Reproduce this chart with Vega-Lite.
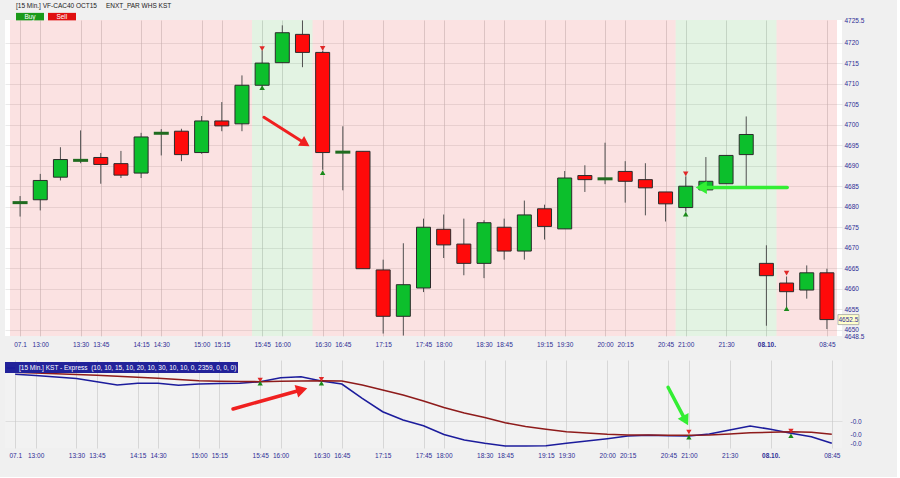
{
  "$schema": "https://vega.github.io/schema/vega-lite/v6.json",
  "background": "#f0f0f0",
  "padding": {"left": 5, "top": 3, "right": 33, "bottom": 18},
  "config": {
    "font": "Liberation Sans",
    "view": {"stroke": null},
    "axis": {"labelFont": "Liberation Sans", "labelFontSize": 6.5, "labelColor": "#2e2e96", "domain": false, "ticks": false, "gridColor": "#c4c4c4", "gridOpacity": 0.6, "title": null, "labelOverlap": false, "labelFlush": false},
    "legend": {"labelFont": "Liberation Sans", "titleFont": "Liberation Sans"}
  },
  "datasets": {
    "candles": [
      {"i": 0, "o": 4681, "h": 4682.6, "l": 4677.6, "c": 4681, "d": "flat"},
      {"i": 1, "o": 4681.7, "h": 4688, "l": 4679.1, "c": 4686.4, "d": "up"},
      {"i": 2, "o": 4687.2, "h": 4694.5, "l": 4686.4, "c": 4691.5, "d": "up"},
      {"i": 3, "o": 4691.3, "h": 4698.6, "l": 4690.6, "c": 4691.3, "d": "flat"},
      {"i": 4, "o": 4692, "h": 4693.1, "l": 4685.6, "c": 4690.3, "d": "down"},
      {"i": 5, "o": 4690.5, "h": 4693.6, "l": 4687, "c": 4687.7, "d": "down"},
      {"i": 6, "o": 4688.2, "h": 4698, "l": 4687, "c": 4697, "d": "up"},
      {"i": 7, "o": 4697.9, "h": 4698.9, "l": 4692.5, "c": 4697.9, "d": "flat"},
      {"i": 8, "o": 4698.4, "h": 4699, "l": 4691.1, "c": 4692.7, "d": "down"},
      {"i": 9, "o": 4693.2, "h": 4702.1, "l": 4692.9, "c": 4700.9, "d": "up"},
      {"i": 10, "o": 4700.9, "h": 4705.5, "l": 4698.4, "c": 4699.7, "d": "down"},
      {"i": 11, "o": 4700.2, "h": 4712, "l": 4698.4, "c": 4709.6, "d": "up"},
      {"i": 12, "o": 4709.6, "h": 4718.1, "l": 4709.3, "c": 4715, "d": "up"},
      {"i": 13, "o": 4715.1, "h": 4724.2, "l": 4715, "c": 4722.4, "d": "up"},
      {"i": 14, "o": 4722, "h": 4725.4, "l": 4714, "c": 4717.6, "d": "down"},
      {"i": 15, "o": 4717.6, "h": 4718, "l": 4689, "c": 4693.2, "d": "down"},
      {"i": 16, "o": 4693.3, "h": 4699.6, "l": 4684, "c": 4693.3, "d": "flat"},
      {"i": 17, "o": 4693.5, "h": 4693.5, "l": 4664.9, "c": 4664.9, "d": "down"},
      {"i": 18, "o": 4664.6, "h": 4667.1, "l": 4649.1, "c": 4653.3, "d": "down"},
      {"i": 19, "o": 4653.3, "h": 4671.1, "l": 4648.6, "c": 4661, "d": "up"},
      {"i": 20, "o": 4660.2, "h": 4677.1, "l": 4659.2, "c": 4675, "d": "up"},
      {"i": 21, "o": 4674.5, "h": 4678.1, "l": 4667.5, "c": 4670.7, "d": "down"},
      {"i": 22, "o": 4670.9, "h": 4677.1, "l": 4663.3, "c": 4666.2, "d": "down"},
      {"i": 23, "o": 4666.2, "h": 4676.7, "l": 4662.6, "c": 4676.1, "d": "up"},
      {"i": 24, "o": 4675, "h": 4677.1, "l": 4667.1, "c": 4669.2, "d": "down"},
      {"i": 25, "o": 4669.2, "h": 4681.5, "l": 4667.1, "c": 4678, "d": "up"},
      {"i": 26, "o": 4679.5, "h": 4680.5, "l": 4672, "c": 4675.2, "d": "down"},
      {"i": 27, "o": 4674.6, "h": 4688.7, "l": 4674.6, "c": 4687, "d": "up"},
      {"i": 28, "o": 4687.6, "h": 4690.1, "l": 4683.6, "c": 4686.6, "d": "down"},
      {"i": 29, "o": 4686.8, "h": 4695.6, "l": 4685.5, "c": 4686.8, "d": "flat"},
      {"i": 30, "o": 4688.6, "h": 4691.1, "l": 4681, "c": 4686.2, "d": "down"},
      {"i": 31, "o": 4686.6, "h": 4690.6, "l": 4677.9, "c": 4684.6, "d": "down"},
      {"i": 32, "o": 4683.6, "h": 4683.6, "l": 4676.4, "c": 4680.7, "d": "down"},
      {"i": 33, "o": 4679.8, "h": 4687.4, "l": 4678.8, "c": 4685, "d": "up"},
      {"i": 34, "o": 4684.1, "h": 4692.1, "l": 4684, "c": 4686.2, "d": "up"},
      {"i": 35, "o": 4685.6, "h": 4692.5, "l": 4685.6, "c": 4692.5, "d": "up"},
      {"i": 36, "o": 4692.7, "h": 4702, "l": 4685, "c": 4697.6, "d": "up"},
      {"i": 37, "o": 4666.2, "h": 4670.6, "l": 4651, "c": 4663.2, "d": "down"},
      {"i": 38, "o": 4661.4, "h": 4663, "l": 4655.5, "c": 4659.3, "d": "down"},
      {"i": 39, "o": 4659.7, "h": 4665.7, "l": 4657.6, "c": 4663.9, "d": "up"},
      {"i": 40, "o": 4663.9, "h": 4664.9, "l": 4650.2, "c": 4652.5, "d": "down"}
    ],
    "zones": [
      {"s": -0.5, "e": 11.5, "sig": "Sell"},
      {"s": 11.5, "e": 14.5, "sig": "Buy"},
      {"s": 14.5, "e": 32.5, "sig": "Sell"},
      {"s": 32.5, "e": 37.5, "sig": "Buy"},
      {"s": 37.5, "e": 40.5, "sig": "Sell"}
    ],
    "signalsTop": [
      {"i": 12, "p": 4718.5, "sig": "Sell"}, {"i": 12, "p": 4709.0, "sig": "Buy"},
      {"i": 15, "p": 4718.6, "sig": "Sell"}, {"i": 15, "p": 4688.3, "sig": "Buy"},
      {"i": 33, "p": 4688.0, "sig": "Sell"}, {"i": 33, "p": 4678.2, "sig": "Buy"},
      {"i": 38, "p": 4663.8, "sig": "Sell"}, {"i": 38, "p": 4655.2, "sig": "Buy"}
    ],
    "signalsBottom": [
      {"i": 12, "v": 0.041, "sig": "Sell"}, {"i": 12, "v": 0.0377, "sig": "Buy"},
      {"i": 15, "v": 0.0417, "sig": "Sell"}, {"i": 15, "v": 0.0377, "sig": "Buy"},
      {"i": 33, "v": -0.011, "sig": "Sell"}, {"i": 33, "v": -0.0163, "sig": "Buy"},
      {"i": 38, "v": -0.010, "sig": "Sell"}, {"i": 38, "v": -0.0147, "sig": "Buy"}
    ],
    "arrowsTop": [
      {"a": "red", "x": 12.09, "y": 4701.8, "x2": 14.14, "y2": 4695.4},
      {"a": "green", "x": 38.03, "y": 4684.7, "x2": 33.77, "y2": 4684.7}
    ],
    "arrowsBottom": [
      {"a": "red", "x": 10.67, "y": 0.012, "x2": 14.04, "y2": 0.0313},
      {"a": "green", "x": 31.98, "y": 0.0337, "x2": 32.84, "y2": 0.0004}
    ],
    "kst": [
      {"i": 0, "v": 0.0467, "series": "KST"}, {"i": 1, "v": 0.0455, "series": "KST"}, {"i": 2, "v": 0.044, "series": "KST"},
      {"i": 3, "v": 0.0425, "series": "KST"}, {"i": 4, "v": 0.0393, "series": "KST"}, {"i": 5, "v": 0.036, "series": "KST"},
      {"i": 6, "v": 0.0377, "series": "KST"}, {"i": 7, "v": 0.0377, "series": "KST"}, {"i": 8, "v": 0.0357, "series": "KST"},
      {"i": 9, "v": 0.037, "series": "KST"}, {"i": 10, "v": 0.0375, "series": "KST"}, {"i": 11, "v": 0.0377, "series": "KST"},
      {"i": 12, "v": 0.0393, "series": "KST"}, {"i": 13, "v": 0.0433, "series": "KST"}, {"i": 14, "v": 0.0443, "series": "KST"},
      {"i": 15, "v": 0.04, "series": "KST"}, {"i": 16, "v": 0.037, "series": "KST"}, {"i": 17, "v": 0.0227, "series": "KST"},
      {"i": 18, "v": 0.0093, "series": "KST"}, {"i": 19, "v": 0.001, "series": "KST"}, {"i": 20, "v": -0.0047, "series": "KST"},
      {"i": 21, "v": -0.0135, "series": "KST"}, {"i": 22, "v": -0.019, "series": "KST"}, {"i": 23, "v": -0.0223, "series": "KST"},
      {"i": 24, "v": -0.025, "series": "KST"}, {"i": 25, "v": -0.025, "series": "KST"}, {"i": 26, "v": -0.0247, "series": "KST"},
      {"i": 27, "v": -0.0223, "series": "KST"}, {"i": 28, "v": -0.02, "series": "KST"}, {"i": 29, "v": -0.0177, "series": "KST"},
      {"i": 30, "v": -0.015, "series": "KST"}, {"i": 31, "v": -0.0143, "series": "KST"}, {"i": 32, "v": -0.0147, "series": "KST"},
      {"i": 33, "v": -0.015, "series": "KST"}, {"i": 34, "v": -0.013, "series": "KST"}, {"i": 35, "v": -0.009, "series": "KST"},
      {"i": 36, "v": -0.005, "series": "KST"}, {"i": 37, "v": -0.0083, "series": "KST"}, {"i": 38, "v": -0.0123, "series": "KST"},
      {"i": 39, "v": -0.0157, "series": "KST"}, {"i": 40, "v": -0.0223, "series": "KST"},
      {"i": 0, "v": 0.0487, "series": "Signal"}, {"i": 1, "v": 0.048, "series": "Signal"}, {"i": 2, "v": 0.0472, "series": "Signal"},
      {"i": 3, "v": 0.0465, "series": "Signal"}, {"i": 4, "v": 0.0457, "series": "Signal"}, {"i": 5, "v": 0.0448, "series": "Signal"},
      {"i": 6, "v": 0.0438, "series": "Signal"}, {"i": 7, "v": 0.0428, "series": "Signal"}, {"i": 8, "v": 0.0415, "series": "Signal"},
      {"i": 9, "v": 0.0403, "series": "Signal"}, {"i": 10, "v": 0.0398, "series": "Signal"}, {"i": 11, "v": 0.0395, "series": "Signal"},
      {"i": 12, "v": 0.0393, "series": "Signal"}, {"i": 13, "v": 0.0397, "series": "Signal"}, {"i": 14, "v": 0.04, "series": "Signal"},
      {"i": 15, "v": 0.0403, "series": "Signal"}, {"i": 16, "v": 0.04, "series": "Signal"}, {"i": 17, "v": 0.036, "series": "Signal"},
      {"i": 18, "v": 0.031, "series": "Signal"}, {"i": 19, "v": 0.026, "series": "Signal"}, {"i": 20, "v": 0.02, "series": "Signal"},
      {"i": 21, "v": 0.0135, "series": "Signal"}, {"i": 22, "v": 0.008, "series": "Signal"}, {"i": 23, "v": 0.0035, "series": "Signal"},
      {"i": 24, "v": -0.0017, "series": "Signal"}, {"i": 25, "v": -0.0055, "series": "Signal"}, {"i": 26, "v": -0.0083, "series": "Signal"},
      {"i": 27, "v": -0.0107, "series": "Signal"}, {"i": 28, "v": -0.012, "series": "Signal"}, {"i": 29, "v": -0.0133, "series": "Signal"},
      {"i": 30, "v": -0.014, "series": "Signal"}, {"i": 31, "v": -0.014, "series": "Signal"}, {"i": 32, "v": -0.0142, "series": "Signal"},
      {"i": 33, "v": -0.0143, "series": "Signal"}, {"i": 34, "v": -0.014, "series": "Signal"}, {"i": 35, "v": -0.013, "series": "Signal"},
      {"i": 36, "v": -0.0117, "series": "Signal"}, {"i": 37, "v": -0.0113, "series": "Signal"}, {"i": 38, "v": -0.0107, "series": "Signal"},
      {"i": 39, "v": -0.0113, "series": "Signal"}, {"i": 40, "v": -0.0133, "series": "Signal"}
    ]
  },
  "spacing": 12,
  "resolve": {"scale": {"y": "independent", "color": "independent", "fill": "independent"}},
  "vconcat": [
    {
      "width": 837,
      "height": 316,
      "view": {"fill": "#ffffff", "stroke": null},
      "layer": [
        {
          "data": {"name": "zones"},
          "mark": {"type": "rect", "opacity": 0.12},
          "encoding": {
            "x": {"field": "s", "type": "quantitative", "scale": {"domain": [-0.5, 40.5], "nice": false, "zero": false},
              "axis": {"orient": "bottom", "grid": true, "tickCount": 200, "labelPadding": 5, "labelOverlap": false, "labelFlush": false, "labelBound": false,
                "values": [0, 1, 3, 4, 6, 7, 9, 10, 12, 13, 15, 16, 18, 20, 21, 23, 24, 26, 27, 29, 30, 32, 33, 35, 37, 40],
                "labelExpr": "['07.1','13:00','13:15','13:30','13:45','14:00','14:15','14:30','14:45','15:00','15:15','15:30','15:45','16:00','16:15','16:30','16:45','17:00','17:15','17:30','17:45','18:00','18:15','18:30','18:45','19:00','19:15','19:30','19:45','20:00','20:15','20:30','20:45','21:00','21:15','21:30','21:45','08.10.','08:15','08:30','08:45'][datum.value]",
                "labelFontWeight": {"condition": {"test": "datum.value == 37", "value": "bold"}, "value": "normal"}}},
            "x2": {"field": "e"},
            "fill": {"field": "sig", "type": "nominal", "scale": {"domain": ["Buy", "Sell"], "range": ["#1a9a1a", "#e01010"]},
              "legend": {"orient": "none", "legendX": 11, "legendY": -17, "direction": "horizontal",
                "title": "[15 Min.] VF-CAC40 OCT15\u00a0\u00a0\u00a0\u00a0\u00a0ENXT_PAR WHS KST",
                "titleFontSize": 6.5, "titleFontWeight": "normal", "titleColor": "#1a1a1a", "titlePadding": 2, "titleLimit": 400,
                "symbolType": "M-1,-0.75H4.6V0.75H-1Z", "symbolSize": 100, "symbolOpacity": 1, "symbolStrokeWidth": 0,
                "labelColor": "#ffffff", "labelFontSize": 6.5, "labelOffset": -1.6, "columnPadding": 4}}
          }
        },
        {
          "data": {"name": "candles"},
          "mark": {"type": "rule", "color": "#505050", "strokeWidth": 1},
          "encoding": {
            "x": {"field": "i", "type": "quantitative"},
            "y": {"field": "l", "type": "quantitative", "scale": {"domain": [4648.5, 4725.5], "nice": false, "zero": false},
              "axis": {"orient": "right", "grid": true, "tickCount": 200, "labelPadding": 2, "labelOverlap": false, "labelFlush": false, "labelBound": false,
                "values": [4648.5, 4650, 4655, 4660, 4665, 4670, 4675, 4680, 4685, 4690, 4695, 4700, 4705, 4710, 4715, 4720, 4725.5],
                "labelExpr": "datum.value + ''",
                "gridOpacity": {"condition": {"test": "datum.value == 4648.5 || datum.value == 4725.5", "value": 0}, "value": 0.6}}},
            "y2": {"field": "h"}
          }
        },
        {
          "data": {"name": "candles"},
          "transform": [{"filter": "datum.d != 'flat'"}],
          "mark": {"type": "bar", "size": 14, "stroke": "#2b2b2b", "strokeWidth": 1},
          "encoding": {
            "x": {"field": "i", "type": "quantitative"},
            "y": {"field": "o", "type": "quantitative"},
            "y2": {"field": "c"},
            "color": {"field": "d", "type": "nominal", "scale": {"domain": ["up", "down"], "range": ["#0cbf2c", "#ff0a0a"]}, "legend": null}
          }
        },
        {
          "data": {"name": "candles"},
          "transform": [{"filter": "datum.d == 'flat'"}],
          "mark": {"type": "tick", "orient": "horizontal", "size": 15, "thickness": 3, "color": "#1f6b1f", "opacity": 1},
          "encoding": {
            "x": {"field": "i", "type": "quantitative"},
            "y": {"field": "c", "type": "quantitative"}
          }
        },
        {
          "data": {"name": "signalsTop"},
          "transform": [{"filter": "datum.sig == 'Sell'"}],
          "mark": {"type": "point", "shape": "triangle-down", "filled": true, "size": 30, "color": "#e02828", "opacity": 1},
          "encoding": {"x": {"field": "i", "type": "quantitative"}, "y": {"field": "p", "type": "quantitative"}}
        },
        {
          "data": {"name": "signalsTop"},
          "transform": [{"filter": "datum.sig == 'Buy'"}],
          "mark": {"type": "point", "shape": "triangle-up", "filled": true, "size": 30, "color": "#1a8a1a", "opacity": 1},
          "encoding": {"x": {"field": "i", "type": "quantitative"}, "y": {"field": "p", "type": "quantitative"}}
        },
        {
          "data": {"name": "candles"},
          "transform": [{"filter": "datum.i == 40"}],
          "mark": {"type": "point", "shape": "M2.2,-1H6.4V1H2.2Z", "size": 100, "filled": true, "fill": "#ffffcc", "stroke": "#9a9a9a", "strokeWidth": 0.7, "opacity": 1},
          "encoding": {"x": {"field": "i", "type": "quantitative"}, "y": {"field": "c", "type": "quantitative"}}
        },
        {
          "data": {"name": "candles"},
          "transform": [{"filter": "datum.i == 40"}],
          "mark": {"type": "text", "dx": 21.5, "align": "center", "baseline": "middle", "fontSize": 6.5, "color": "#2e2e96"},
          "encoding": {"x": {"field": "i", "type": "quantitative"}, "y": {"field": "c", "type": "quantitative"}, "text": {"field": "c", "type": "quantitative", "format": ".1f"}}
        },
        {
          "data": {"name": "arrowsTop"},
          "transform": [{"filter": "datum.a == 'red'"}],
          "mark": {"type": "rule", "color": "#f02020", "strokeWidth": 3, "strokeCap": "round"},
          "encoding": {"x": {"field": "x", "type": "quantitative"}, "y": {"field": "y", "type": "quantitative"}, "x2": {"field": "x2"}, "y2": {"field": "y2"}}
        },
        {
          "data": {"name": "arrowsTop"},
          "transform": [{"filter": "datum.a == 'red'"}],
          "mark": {"type": "point", "shape": "triangle-right", "angle": 32, "filled": true, "size": 130, "color": "#f02020", "opacity": 1},
          "encoding": {"x": {"field": "x2", "type": "quantitative"}, "y": {"field": "y2", "type": "quantitative"}}
        },
        {
          "data": {"name": "arrowsTop"},
          "transform": [{"filter": "datum.a == 'green'"}],
          "mark": {"type": "rule", "color": "#33ee33", "strokeWidth": 3.5, "strokeCap": "round"},
          "encoding": {"x": {"field": "x", "type": "quantitative"}, "y": {"field": "y", "type": "quantitative"}, "x2": {"field": "x2"}, "y2": {"field": "y2"}}
        },
        {
          "data": {"name": "arrowsTop"},
          "transform": [{"filter": "datum.a == 'green'"}],
          "mark": {"type": "point", "shape": "triangle-left", "filled": true, "size": 170, "color": "#33ee33", "opacity": 1},
          "encoding": {"x": {"field": "x2", "type": "quantitative"}, "y": {"field": "y2", "type": "quantitative"}}
        }
      ]
    },
    {
      "width": 837,
      "height": 88,
      "view": {"fill": "#f2f2f2", "stroke": null},
      "layer": [
        {
          "data": {"name": "kst"},
          "mark": {"type": "line", "strokeWidth": 1.6},
          "encoding": {
            "x": {"field": "i", "type": "quantitative", "scale": {"domain": [-0.5, 40.5], "nice": false, "zero": false},
              "axis": {"orient": "bottom", "grid": true, "tickCount": 200, "labelPadding": 4, "labelOverlap": false, "labelFlush": false, "labelBound": false,
                "values": [0, 1, 3, 4, 6, 7, 9, 10, 12, 13, 15, 16, 18, 20, 21, 23, 24, 26, 27, 29, 30, 32, 33, 35, 37, 40],
                "labelExpr": "['07.1','13:00','13:15','13:30','13:45','14:00','14:15','14:30','14:45','15:00','15:15','15:30','15:45','16:00','16:15','16:30','16:45','17:00','17:15','17:30','17:45','18:00','18:15','18:30','18:45','19:00','19:15','19:30','19:45','20:00','20:15','20:30','20:45','21:00','21:15','21:30','21:45','08.10.','08:15','08:30','08:45'][datum.value]",
                "labelFontWeight": {"condition": {"test": "datum.value == 37", "value": "bold"}, "value": "normal"}}},
            "y": {"field": "v", "type": "quantitative", "scale": {"domain": [-0.027, 0.061], "nice": false, "zero": false},
              "axis": {"orient": "right", "grid": true, "tickCount": 200, "labelPadding": 8, "values": [0, -0.0133, -0.0223], "labelOverlap": false, "labelFlush": false,
                "labelExpr": "'-0.0'",
                "gridOpacity": {"condition": {"test": "datum.value == 0", "value": 0.7}, "value": 0}}},
            "color": {"field": "series", "type": "nominal", "scale": {"domain": ["KST", "Signal"], "range": ["#1c1c9c", "#8e1b1b"]},
              "legend": {"orient": "none", "legendX": 0, "legendY": 2, "values": ["KST"], "title": null,
                "labelExpr": "'[15 Min.] KST - Express\u00a0\u00a0(10, 10, 15, 10, 20, 10, 30, 10, 10, 0, 2359, 0, 0, 0)'",
                "fillColor": "#22229a", "padding": 1, "labelColor": "#ffffff", "labelFontSize": 6.5, "labelLimit": 500,
                "symbolType": "stroke", "symbolStrokeColor": "#9a9aff", "symbolSize": 60, "symbolStrokeWidth": 2, "labelOffset": 3}}
          }
        },
        {
          "data": {"name": "signalsBottom"},
          "transform": [{"filter": "datum.sig == 'Sell'"}],
          "mark": {"type": "point", "shape": "triangle-down", "filled": true, "size": 28, "color": "#e02828", "opacity": 1},
          "encoding": {"x": {"field": "i", "type": "quantitative"}, "y": {"field": "v", "type": "quantitative"}}
        },
        {
          "data": {"name": "signalsBottom"},
          "transform": [{"filter": "datum.sig == 'Buy'"}],
          "mark": {"type": "point", "shape": "triangle-up", "filled": true, "size": 28, "color": "#1a8a1a", "opacity": 1},
          "encoding": {"x": {"field": "i", "type": "quantitative"}, "y": {"field": "v", "type": "quantitative"}}
        },
        {
          "data": {"name": "arrowsBottom"},
          "transform": [{"filter": "datum.a == 'red'"}],
          "mark": {"type": "rule", "color": "#f02020", "strokeWidth": 3.5, "strokeCap": "round"},
          "encoding": {"x": {"field": "x", "type": "quantitative"}, "y": {"field": "y", "type": "quantitative"}, "x2": {"field": "x2"}, "y2": {"field": "y2"}}
        },
        {
          "data": {"name": "arrowsBottom"},
          "transform": [{"filter": "datum.a == 'red'"}],
          "mark": {"type": "point", "shape": "triangle-right", "angle": -16, "filled": true, "size": 170, "color": "#f02020", "opacity": 1},
          "encoding": {"x": {"field": "x2", "type": "quantitative"}, "y": {"field": "y2", "type": "quantitative"}}
        },
        {
          "data": {"name": "arrowsBottom"},
          "transform": [{"filter": "datum.a == 'green'"}],
          "mark": {"type": "rule", "color": "#33ee33", "strokeWidth": 3.5, "strokeCap": "round"},
          "encoding": {"x": {"field": "x", "type": "quantitative"}, "y": {"field": "y", "type": "quantitative"}, "x2": {"field": "x2"}, "y2": {"field": "y2"}}
        },
        {
          "data": {"name": "arrowsBottom"},
          "transform": [{"filter": "datum.a == 'green'"}],
          "mark": {"type": "point", "shape": "triangle-right", "angle": 62, "filled": true, "size": 150, "color": "#33ee33", "opacity": 1},
          "encoding": {"x": {"field": "x2", "type": "quantitative"}, "y": {"field": "y2", "type": "quantitative"}}
        }
      ]
    }
  ]
}
